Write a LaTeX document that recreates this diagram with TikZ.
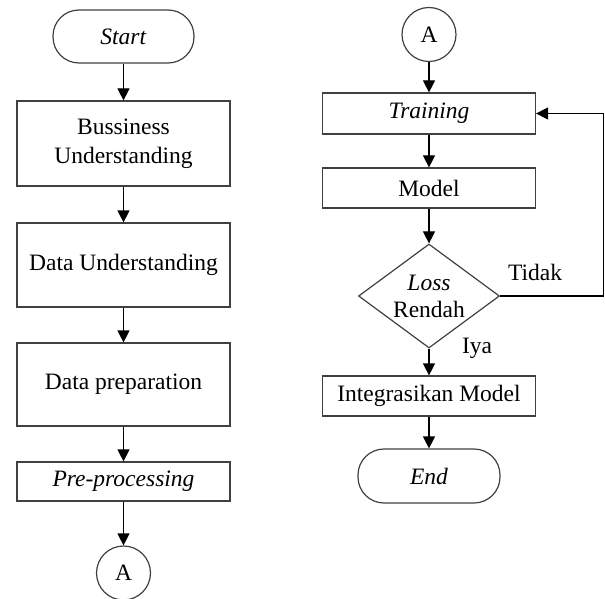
\documentclass[tikz,border=0pt]{standalone}
\usepackage{fontspec}
\setmainfont{Liberation Serif}
\usetikzlibrary{shapes.geometric,arrows.meta}
\begin{document}
\begin{tikzpicture}[x=1pt,y=-1pt,
  every node/.style={font=\fontsize{23.5}{29}\selectfont, text=black},
  procbox/.style={draw=black!75, line width=1.2pt, rectangle, minimum width=213pt, inner sep=0pt, align=center},
  termbox/.style={draw=black!75, line width=1.2pt, rectangle, rounded corners=26pt, minimum width=141pt, minimum height=53pt, inner sep=0pt},
  connbox/.style={draw=black!75, line width=1.2pt, circle, minimum size=54pt, inner sep=0pt},
  decbox/.style={draw=black!75, line width=1.2pt, diamond, minimum width=141pt, minimum height=104pt, inner sep=0pt},
  flow/.style={draw=black, line width=1.2pt, -{Triangle[width=12pt,length=12pt]}},
  plain/.style={draw=black!75, line width=1.2pt}
]
\useasboundingbox (0,0) rectangle (605,599);
% left column
\node[termbox] (start) at (123.5,36.5) {\textit{Start}};
\node[procbox, minimum height=85pt] (bu) at (123.5,143.5) {Bussiness\\Understanding};
\node[procbox, minimum height=84pt] (du) at (123.5,265) {Data Understanding};
\node[procbox, minimum height=83pt] (dp) at (123.5,384.5) {Data preparation};
\node[procbox, minimum height=39pt] (pp) at (123.5,481.5) {\textit{Pre-processing}};
\node[connbox] (ca) at (123.5,573) {A};
% right column
\node[connbox] (cb) at (429,34.5) {A};
\node[procbox, minimum height=41pt] (tr) at (429,113.5) {\textit{Training}};
\node[procbox, minimum height=40pt] (md) at (429,188) {Model};
\node[decbox, label={[align=center, font=\fontsize{23.5}{27}\selectfont]center:{\textit{Loss}\\Rendah}}] (dec) at (429,296) {};
\node[procbox, minimum height=40pt] (int) at (429,396) {Integrasikan Model};
\node[termbox, minimum width=142pt, minimum height=54pt] (end) at (429,476) {\textit{End}};
\coordinate (fb) at (603.5,296);
\node (tidak) at (535,272) {Tidak};
\node (iya) at (477,348) {Iya};
% connectors
\draw[flow] (start) -- (bu);
\draw[flow] (bu) -- (du);
\draw[flow] (du) -- (dp);
\draw[flow] (dp) -- (pp);
\draw[flow] (pp) -- (ca);
\draw[flow] (cb) -- (tr);
\draw[flow] (tr) -- (md);
\draw[flow] (md) -- (dec);
\draw[flow] (dec) -- (int);
\draw[flow] (int) -- (end);
\draw[flow] (dec.east) -- (fb) |- (tr.east);
\end{tikzpicture}
\end{document}
